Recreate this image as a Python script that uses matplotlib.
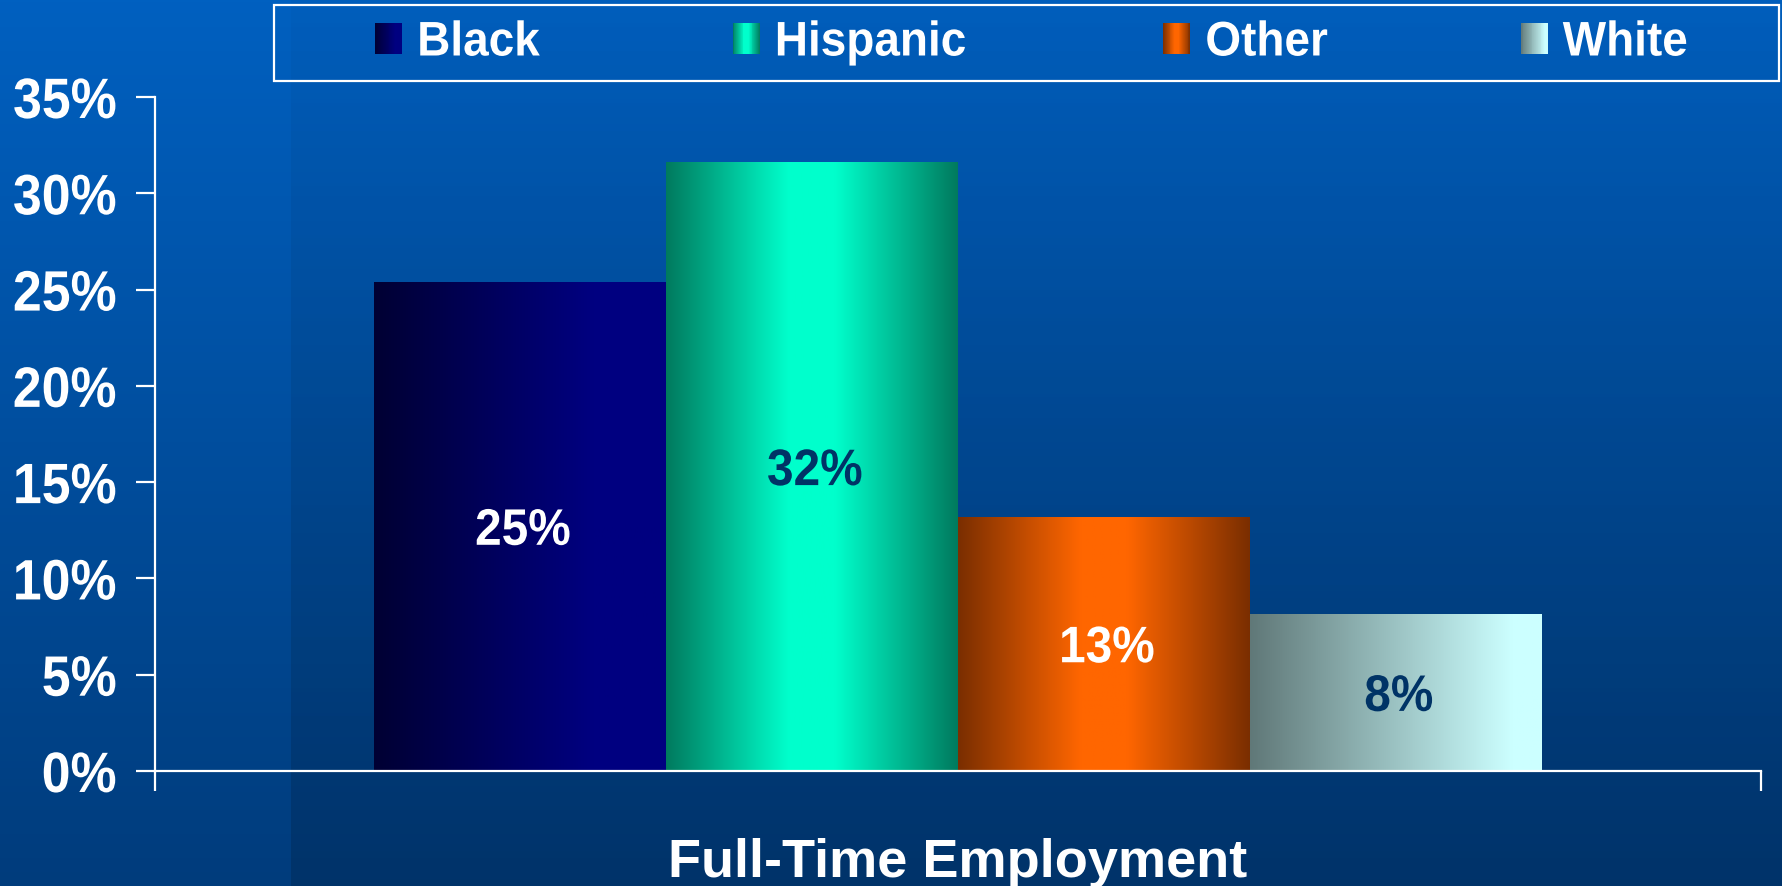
import numpy as np
import matplotlib
matplotlib.use("Agg")
import matplotlib.pyplot as plt
from matplotlib.colors import LinearSegmentedColormap, to_rgb
from matplotlib.patches import Rectangle
from matplotlib.legend_handler import HandlerBase
from matplotlib.patheffects import AbstractPathEffect
from matplotlib.transforms import Affine2D

# ---------------- data ----------------
category = "Full-Time Employment"
groups = ["Black", "Hispanic", "Other", "White"]
values = [25.4, 31.6, 13.2, 8.15]
yticks = [0, 5, 10, 15, 20, 25, 30, 35]
ytick_labels = ["0%", "5%", "10%", "15%", "20%", "25%", "30%", "35%"]

# ---------------- styles ----------------
gradient_stops = {
    "Black": [(0.0, "#000033"), (0.75, "#000080"), (1.0, "#000080")],
    "Hispanic": [(0.0, "#007A5E"), (0.42, "#00FFCC"), (0.58, "#00FFCC"), (1.0, "#007A5E")],
    "Other": [(0.0, "#7A2E00"), (0.42, "#FF6600"), (0.58, "#FF6600"), (1.0, "#7A2E00")],
    "White": [(0.0, "#607878"), (0.9, "#CCFFFF"), (1.0, "#CCFFFF")],
}
label_colors = {"Black": "white", "Hispanic": "#003366", "Other": "white", "White": "#003366"}
cmaps = {g: LinearSegmentedColormap.from_list(g, gradient_stops[g]) for g in groups}

plt.rcParams["font.family"] = ["Liberation Sans", "DejaVu Sans"]
plt.rcParams["font.weight"] = "bold"


class Condense(AbstractPathEffect):
    """Horizontally condense text glyphs around an anchor."""

    def __init__(self, sx, anchor="center"):
        super().__init__()
        self.sx = sx
        self.anchor = anchor

    def draw_path(self, renderer, gc, tpath, affine, rgbFace=None):
        ext = tpath.get_extents()
        if self.anchor == "center":
            a = (ext.x0 + ext.x1) / 2
        elif self.anchor == "right":
            a = ext.x1
        else:
            a = ext.x0
        t = Affine2D().translate(-a, 0).scale(self.sx, 1).translate(a, 0)
        renderer.draw_path(gc, tpath, t + affine, rgbFace)


W, H = 1782, 887
fig = plt.figure(figsize=(W / 100, H / 100), dpi=100)

# background gradient
bg = fig.add_axes([0, 0, 1, 1], zorder=-10)
bg.set_axis_off()
top = np.array(to_rgb("#0060C0"))
bot = np.array(to_rgb("#003C7C"))
t = np.linspace(0, 1, 256)[:, None]
grad = top[None, :] * (1 - t) + bot[None, :] * t
bg.imshow(grad[:, None, :], aspect="auto", extent=(0, 1, 0, 1), origin="upper")
alpha = np.linspace(0.02, 0.15, 256)[:, None]
ov = np.zeros((256, 1, 4))
ov[:, :, 3] = alpha
bg.imshow(ov, aspect="auto", extent=(291 / W, 1, 0, 1), origin="upper")
bg.set_xlim(0, 1)
bg.set_ylim(0, 1)

# main axes
ax = fig.add_axes([155 / W, 1 - 772 / H, (1761 - 155) / W, (772 - 98) / H])
ax.patch.set_alpha(0)
n = len(groups)
bw = 1 / 5.5
xpos = [(i - (n - 1) / 2) * bw for i in range(n)]
bars = ax.bar(xpos, values, width=bw, facecolor="none", edgecolor="none", zorder=2)

for g, patch in zip(groups, bars.patches):
    x0, w, h = patch.get_x(), patch.get_width(), patch.get_height()
    img = cmaps[g](np.linspace(0, 1, 256))[None, :, :]
    im = ax.imshow(img, aspect="auto", extent=(x0, x0 + w, 0, h), zorder=1.5)
    im.set_clip_path(patch)
ax.set_xlim(-0.5, 0.5)
ax.set_ylim(0, 35)

texts = ax.bar_label(bars, labels=[f"{v:.0f}%" for v in values], label_type="center",
                     fontsize=37, fontweight="bold")
for g, tx in zip(groups, texts):
    tx.set_color(label_colors[g])
    tx.set_path_effects([Condense(0.93, "center")])
    tx.xyann = (2, -3.5)

# axes styling
for s in ["top", "right"]:
    ax.spines[s].set_visible(False)
for s in ["left", "bottom"]:
    ax.spines[s].set_color("white")
    ax.spines[s].set_linewidth(1.6)
ax.set_yticks(yticks)
ax.set_yticklabels(ytick_labels)
ax.tick_params(axis="y", colors="white", length=13.5, width=1.6, pad=14,
               labelsize=41)
for lab in ax.get_yticklabels():
    lab.set_fontweight("bold")
    lab.set_path_effects([Condense(0.91, "right")])
ax.set_xticks([-0.5, 0.5])
ax.set_xticklabels(["", ""])
ax.tick_params(axis="x", colors="white", length=14.4, width=1.6, direction="out")
ax.set_xlabel(category, color="white", fontsize=39, fontweight="bold")
ax.xaxis.set_label_coords(0.5, -0.1558)
ax.xaxis.label.set_va("baseline")


# legend with gradient swatches
class GradientHandler(HandlerBase):
    def __init__(self, cmap, nstrips=30):
        super().__init__()
        self.cmap = cmap
        self.nstrips = nstrips

    def create_artists(self, legend, orig_handle, xdescent, ydescent, width, height,
                       fontsize, trans):
        arts = []
        sw = width / self.nstrips
        for i in range(self.nstrips):
            c = self.cmap((i + 0.5) / self.nstrips)
            r = Rectangle((-xdescent + i * sw, -ydescent), sw * 1.05, height,
                          facecolor=c, edgecolor="none", transform=trans)
            arts.append(r)
        return arts


handler_map = {p: GradientHandler(cmaps[g]) for g, p in zip(groups, bars.patches)}
fs_leg = 35
em = fs_leg * 100 / 72
leg = fig.legend(list(bars.patches), groups, handler_map=handler_map, ncol=4,
                 loc="center", bbox_to_anchor=(1035 / W, 1 - 44 / H), frameon=False,
                 fontsize=fs_leg, handlelength=27 / em, handleheight=29 / em,
                 handletextpad=15 / em, columnspacing=186 / em, borderpad=0)
for tx in leg.get_texts():
    tx.set_color("white")
    tx.set_fontweight("bold")
    tx.set_path_effects([Condense(0.945, "left")])

fig.patches.append(Rectangle((274 / W, 1 - 82 / H), (1779 - 274) / W, 76 / H,
                             transform=fig.transFigure, facecolor="none",
                             edgecolor="white", linewidth=1.6))

fig.savefig("out.png", dpi=100)
